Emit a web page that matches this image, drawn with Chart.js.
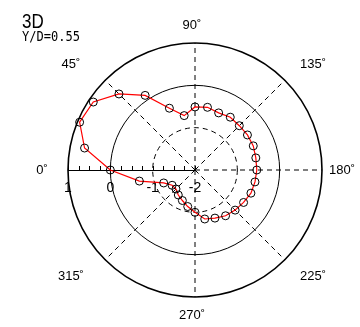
<!DOCTYPE html>
<html>
<head>
<meta charset="utf-8">
<script src="https://cdn.jsdelivr.net/npm/chart.js@4/dist/chart.umd.min.js"></script>
<style>
  html, body { margin: 0; padding: 0; background: #fff; }
  canvas { display: block; }
</style>
</head>
<body>
<canvas id="polar" width="360" height="327"></canvas>
<script>
// Measurement directions, clockwise from the 0° axis (left), every 11.25°
const angleDeg = [
  0, 11.25, 22.5, 33.75, 45, 56.25, 67.5, 78.75,
  90, 101.25, 112.5, 123.75, 135, 146.25, 157.5, 168.75,
  180, 191.25, 202.5, 213.75, 225, 236.25, 247.5, 258.75,
  270, 281.25, 292.5, 303.75, 315, 326.25, 337.5, 348.75
];
// Measured value in each direction
const values = [
  0.00, 0.66, 0.95, 0.89, 0.54, 0.12, -0.42, -0.69,
  -0.51, -0.49, -0.54, -0.50, -0.52, -0.51, -0.51, -0.535,
  -0.54, -0.555, -0.57, -0.62, -0.66, -0.70, -0.77, -0.82,
  -1.00, -1.12, -1.22, -1.29, -1.365, -1.35, -1.20, -0.66
];
// Radial axis range and labelled ticks
const rMin = -2;
const rMax = 1;
const rTicks = [1, 0, -1, -2];
const rMinorStep = 0.25;
// Direction labels drawn around the rim
const rimAngles = [0, 45, 90, 135, 180, 225, 270, 315];

const title = '3D';
const subtitle = 'Y/D=0.55';

const decorations = {
  id: 'decorations',
  beforeDatasetsDraw(chart) {
    const s = chart.scales.r;
    const ctx = chart.ctx;
    const cx = s.xCenter, cy = s.yCenter;
    const outer = s.getDistanceFromCenterForValue(rMax);
    ctx.save();
    ctx.strokeStyle = '#000';
    ctx.lineWidth = 1;
    // radial axis along the 0° direction
    ctx.beginPath();
    ctx.moveTo(cx - outer, cy + 0.5);
    ctx.lineTo(cx, cy + 0.5);
    ctx.stroke();
    // tick marks every quarter unit
    ctx.beginPath();
    for (let v = rMax; v >= rMin - 1e-9; v -= rMinorStep) {
      const x = Math.round(cx - s.getDistanceFromCenterForValue(v)) + 0.5;
      ctx.moveTo(x, cy);
      ctx.lineTo(x, cy - 4);
    }
    ctx.stroke();
    // tick labels
    ctx.fillStyle = '#000';
    ctx.font = '14px "Liberation Sans", Arial, sans-serif';
    ctx.textAlign = 'center';
    ctx.textBaseline = 'alphabetic';
    rTicks.forEach(v => {
      const x = cx - s.getDistanceFromCenterForValue(v);
      ctx.fillText(String(v), x, cy + 22);
    });
    // direction labels around the rim
    ctx.font = '13px "Liberation Sans", Arial, sans-serif';
    ctx.textBaseline = 'middle';
    rimAngles.forEach(a => {
      const i = angleDeg.indexOf(a);
      const p = s.getPointPosition(i, 100);
      const ux = (p.x - cx) / 100, uy = (p.y - cy) / 100;
      const diag = Math.abs(Math.sin(2 * a * Math.PI / 180));
      const x = cx - 3 + ux * (outer + 23) + Math.sign(Math.round(ux * 1000)) * 15 * diag;
      const y = cy + uy * (outer + 18 + 5 * diag);
      ctx.fillText(a + '\u02DA', x, y);
    });
    ctx.restore();
  },
  afterDraw(chart) {
    const ctx = chart.ctx;
    ctx.save();
    ctx.fillStyle = '#000';
    ctx.textAlign = 'left';
    ctx.textBaseline = 'alphabetic';
    ctx.translate(22, 0);
    ctx.scale(0.85, 1);
    ctx.font = '20px "Liberation Sans", Arial, sans-serif';
    ctx.fillText(title, 0, 27.5);
    ctx.restore();
    ctx.save();
    ctx.fillStyle = '#000';
    ctx.translate(22, 0);
    ctx.scale(0.86, 1);
    ctx.font = '14px "DejaVu Sans Mono", monospace';
    ctx.fillText(subtitle, 0, 40.5);
    ctx.restore();
  }
};

new Chart(document.getElementById('polar'), {
  type: 'radar',
  data: {
    labels: angleDeg,
    datasets: [{
      data: values,
      borderColor: '#ff0000',
      borderWidth: 1.2,
      fill: false,
      tension: 0,
      pointRadius: 4,
      pointBorderColor: '#000',
      pointBackgroundColor: 'rgba(0,0,0,0)',
      pointBorderWidth: 1
    }]
  },
  options: {
    responsive: false,
    animation: false,
    layout: { padding: { left: 68, right: 38, top: 43, bottom: 30 } },
    plugins: {
      legend: { display: false },
      tooltip: { enabled: false }
    },
    scales: {
      r: {
        min: rMin,
        max: rMax,
        startAngle: 270,
        ticks: { display: false, stepSize: 1 },
        pointLabels: { display: false },
        grid: {
          circular: true,
          color: c => (c.tick && c.tick.value === rMin) ? 'rgba(0,0,0,0)' : '#000',
          lineWidth: c => (c.tick && c.tick.value === rMax) ? 1.6 : 1
        },
        border: {
          dash: c => (c.tick && c.tick.value === -1) ? [5, 4] : []
        },
        angleLines: {
          color: '#000',
          lineWidth: c => (c.index % 4 === 0 && c.index !== 0) ? 1 : 0,
          borderDash: [5, 4]
        }
      }
    }
  },
  plugins: [decorations]
});
</script>
</body>
</html>
